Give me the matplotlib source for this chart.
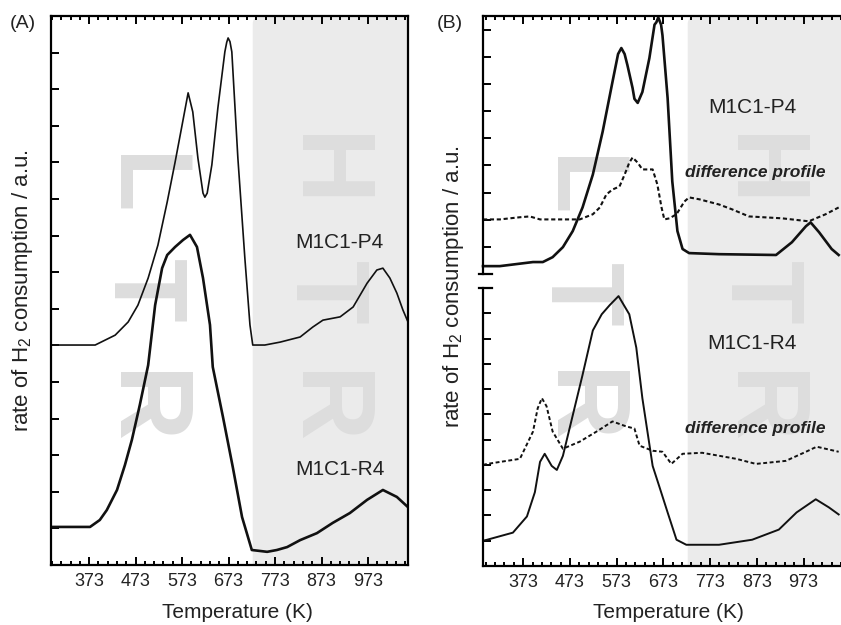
import matplotlib
matplotlib.use("Agg")
import matplotlib.pyplot as plt
from matplotlib.patches import FancyBboxPatch
from matplotlib.transforms import Bbox, TransformedBbox

# ---- data (temperature in K, signal in a.u. incl. offset) ----
x_major = [373, 473, 573, 673, 773, 873, 973]
htr_start = 725

# panel (A)
a_p4_t = [291, 353, 386, 429, 457, 478, 500, 521, 541, 558, 573, 586, 596, 607, 618, 622, 627,
          637, 650, 665, 669, 672, 676, 680, 693, 708, 719, 725, 751, 784, 827, 854, 876, 913, 941, 971,
          992, 1005, 1020, 1035, 1048, 1059]
a_p4_y = [6.01, 6.01, 6.01, 6.28, 6.64, 7.10, 7.84, 8.74, 9.92, 11.01, 12.02, 12.90, 12.38,
          11.12, 10.16, 10.05, 10.16, 10.93, 12.49, 14.02, 14.28, 14.40, 14.30, 14.02, 11.12, 8.39, 6.56,
          6.01, 6.01, 6.09, 6.23, 6.50, 6.69, 6.78, 7.05, 7.70, 8.06, 8.11, 7.84, 7.43, 6.97, 6.64]
a_r4_t = [291, 343, 375, 396, 411, 433, 450, 465, 482, 500, 515, 530, 541, 558, 575, 590, 605, 618, 633,
          639, 661, 682, 702, 723, 756, 777, 799, 827, 863, 897, 934, 971, 1005, 1035, 1059]
a_r4_y = [1.04, 1.04, 1.04, 1.23, 1.50, 2.05, 2.73, 3.42, 4.37, 5.46, 7.10, 8.11, 8.47, 8.69, 8.88, 9.02,
          8.69, 7.84, 6.56, 5.41, 4.04, 2.68, 1.31, 0.41, 0.36, 0.41, 0.49, 0.68, 0.87, 1.15, 1.42, 1.78,
          2.05, 1.86, 1.58]

# panel (B), upper part
b_p4_t = [287, 323, 394, 415, 436, 458, 479, 500, 522, 543, 564, 576, 583, 590, 596, 607, 611, 618,
          628, 643, 654, 658, 662, 668, 671, 682, 692, 703, 714, 728, 792, 914, 948, 978, 988, 1006, 1033,
          1048]
b_p4_y = [0.29, 0.29, 0.44, 0.44, 0.62, 0.99, 1.58, 2.45, 3.66, 5.24, 7.07, 8.10, 8.32, 8.10, 7.69, 6.85,
          6.45, 6.30, 6.70, 7.95, 9.18, 9.27, 9.45, 9.18, 8.79, 6.48, 3.41, 1.58, 0.92, 0.77, 0.73,
          0.70, 1.17, 1.76, 1.90, 1.54, 0.92, 0.70]
b_p4_diff_t = [287, 323, 366, 387, 409, 494, 522, 537, 551, 564, 579, 590, 600, 607, 618, 628, 650, 660,
               669, 675, 686, 701, 718, 728, 750, 792, 820, 856, 927, 984, 1020, 1048]
b_p4_diff_y = [2.01, 2.01, 2.09, 2.12, 2.01, 2.01, 2.20, 2.45, 2.93, 3.11, 3.22, 3.66, 4.10, 4.29, 4.10,
               3.85, 3.85, 3.30, 2.45, 2.01, 2.05, 2.20, 2.67, 2.82, 2.75, 2.56, 2.38, 2.12, 2.05, 1.94,
               2.20, 2.45]

# panel (B), lower part
b_r4_t = [287, 296, 351, 381, 398, 409, 419, 434, 445, 458, 479, 500, 522, 541, 558, 577, 600, 615, 628,
          650, 664, 682, 701, 722, 792, 863, 920, 958, 999, 1027, 1048]
b_r4_y = [1.00, 1.04, 1.32, 1.96, 2.92, 4.12, 4.44, 3.96, 3.80, 4.36, 5.96, 7.56, 9.32, 9.96, 10.32, 10.68,
          9.96, 8.64, 6.64, 3.96, 3.16, 2.12, 1.04, 0.84, 0.84, 1.04, 1.44, 2.12, 2.64, 2.32, 2.04]
b_r4_diff_t = [287, 296, 366, 394, 404, 413, 423, 436, 458, 494, 530, 564, 594, 611, 622, 650, 671, 690,
               714, 756, 829, 871, 935, 978, 1001, 1048]
b_r4_diff_y = [4.00, 4.04, 4.24, 5.32, 6.24, 6.64, 6.32, 5.32, 4.64, 4.92, 5.32, 5.72, 5.52, 5.44, 4.76,
               4.56, 4.52, 4.04, 4.44, 4.48, 4.24, 4.04, 4.16, 4.52, 4.72, 4.52]

plt.rcParams["font.family"] = ["Liberation Sans", "DejaVu Sans"]
plt.rcParams["mathtext.default"] = "regular"

W, H = 841, 625
fig = plt.figure(figsize=(W / 100, H / 100), dpi=100)


def px_box(left, top, right, bottom):
    return [left / W, 1 - bottom / H, (right - left) / W, (bottom - top) / H]


axA = fig.add_axes(px_box(51, 16, 408, 565))
axB1 = fig.add_axes(px_box(483, 16, 841, 274))
axB2 = fig.add_axes(px_box(483, 288, 841, 566))

axA.set_xlim(291, 1059)
axA.set_ylim(0, 15)
axB1.set_xlim(287, 1050)
axB1.set_ylim(0, 9.5)
axB2.set_xlim(287, 1050)
axB2.set_ylim(0, 11)

minor = list(range(293, 1060, 20))
for ax in (axA, axB1, axB2):
    ax.set_facecolor("none")
    ax.set_xticks(x_major)
    ax.set_xticks(minor, minor=True)
    ax.tick_params(which="both", direction="in", width=1.4, labelsize=13, pad=6, labelcolor="#222222")
    ax.tick_params(which="major", length=5.5)
    ax.tick_params(which="minor", length=3)
    ax.tick_params(axis="y", which="both", left=True, right=False, labelleft=False, length=6)
    for s in ax.spines.values():
        s.set_linewidth(1.6)

axA.set_yticks(range(16))
axA.tick_params(axis="x", which="both", top=True)

axB1.set_yticks(range(10))
axB1.tick_params(axis="x", which="both", top=True, bottom=False, labelbottom=False)
axB1.spines["bottom"].set_visible(False)
axB1.spines["right"].set_visible(False)

axB2.set_yticks(range(12))
axB2.spines["top"].set_visible(False)
axB2.spines["right"].set_visible(False)

# axis-break marks
axB1.plot([-4 / 358, 9 / 358], [0, 0], transform=axB1.transAxes, color="k", lw=1.6, clip_on=False)
axB2.plot([-4 / 358, 9 / 358], [1, 1], transform=axB2.transAxes, color="k", lw=1.6, clip_on=False)

# curves
lc = "#111111"
axA.plot(a_p4_t, a_p4_y, color=lc, lw=1.2)
axA.plot(a_r4_t, a_r4_y, color=lc, lw=1.9)
axB1.plot(b_p4_t, b_p4_y, color=lc, lw=1.9, clip_on=False)
axB1.plot(b_p4_diff_t, b_p4_diff_y, color=lc, lw=1.5, ls=(0, (2, 1.3)))
axB2.plot(b_r4_t, b_r4_y, color=lc, lw=1.4)
axB2.plot(b_r4_diff_t, b_r4_diff_y, color=lc, lw=1.4, ls=(0, (2, 1.3)))

# sample labels
axA.text(912, 8.80, "M1C1-P4", fontsize=15, ha="center", va="center", color="#222222")
axA.text(912, 2.60, "M1C1-R4", fontsize=15, ha="center", va="center", color="#222222")
axB1.text(863, 6.12, "M1C1-P4", fontsize=15, ha="center", va="center", color="#222222")
axB1.text(869, 3.74, "difference profile", fontsize=12.5, ha="center", va="center",
          fontweight="bold", fontstyle="italic", color="#222222")
axB2.text(863, 8.82, "M1C1-R4", fontsize=15, ha="center", va="center", color="#222222")
axB2.text(869, 5.46, "difference profile", fontsize=12.5, ha="center", va="center",
          fontweight="bold", fontstyle="italic", color="#222222")

# axis labels
axA.set_xlabel("Temperature (K)", fontsize=15, color="#222222")
axA.xaxis.set_label_coords(0.521, -0.087)
axA.xaxis.label.set_va("center")
axB2.set_xlabel("Temperature (K)", fontsize=15, color="#222222")
axB2.xaxis.set_label_coords(0.517, -0.169)
axB2.xaxis.label.set_va("center")
axA.set_ylabel("rate of H$_2$ consumption / a.u.", fontsize=16, color="#222222")
axA.yaxis.set_label_coords(-0.081, 0.5)
axA.yaxis.label.set_va("center")
fig.text(453 / W, 1 - 287 / H, "rate of H$_2$ consumption / a.u.", fontsize=16, rotation=90,
         ha="center", va="center", color="#222222")

fig.text(10 / W, 1 - 24 / H, "(A)", fontsize=14, ha="left", va="center", color="#222222")
fig.text(437 / W, 1 - 24 / H, "(B)", fontsize=14, ha="left", va="center", color="#222222")


# shaded high-temperature region, drawn behind the (transparent) axes
def add_shade(axes_list):
    fw, fh = fig.bbox.width, fig.bbox.height
    x0 = axes_list[0].transData.transform((htr_start, 0))[0] / fw
    y0 = min(a.bbox.y0 for a in axes_list) / fh
    y1 = max(a.bbox.y1 for a in axes_list) / fh
    x1 = max(a.bbox.x1 for a in axes_list) / fw
    patch = FancyBboxPatch((x0, y0 - 0.05), x1 - x0 + 0.05, y1 - y0 + 0.05,
                           boxstyle="round,pad=0,rounding_size=0.0095", mutation_aspect=W / H,
                           transform=fig.transFigure, facecolor="#ebebeb", edgecolor="none", zorder=-3)
    patch.set_clip_box(TransformedBbox(Bbox([[0, y0], [x1, y1]]), fig.transFigure))
    fig.add_artist(patch)


add_shade([axA])
add_shade([axB1, axB2])

# big watermark letters "LTR" / "HTR"
letter_kw = dict(fontsize=75, fontweight="bold", color="#dddddd", rotation=270,
                 rotation_mode="anchor", ha="center", va="baseline", zorder=-1)
for base_x, letters, centers in [(113, "LTR", (186, 291, 409)), (295, "HTR", (172, 293, 409)),
                                 (550, "LTR", (188, 295, 408)), (730, "HTR", (172, 293, 409))]:
    for ch, cy in zip(letters, centers):
        fig.text(base_x / W, 1 - cy / H, ch, **letter_kw)

fig.savefig("out.png", dpi=100)
